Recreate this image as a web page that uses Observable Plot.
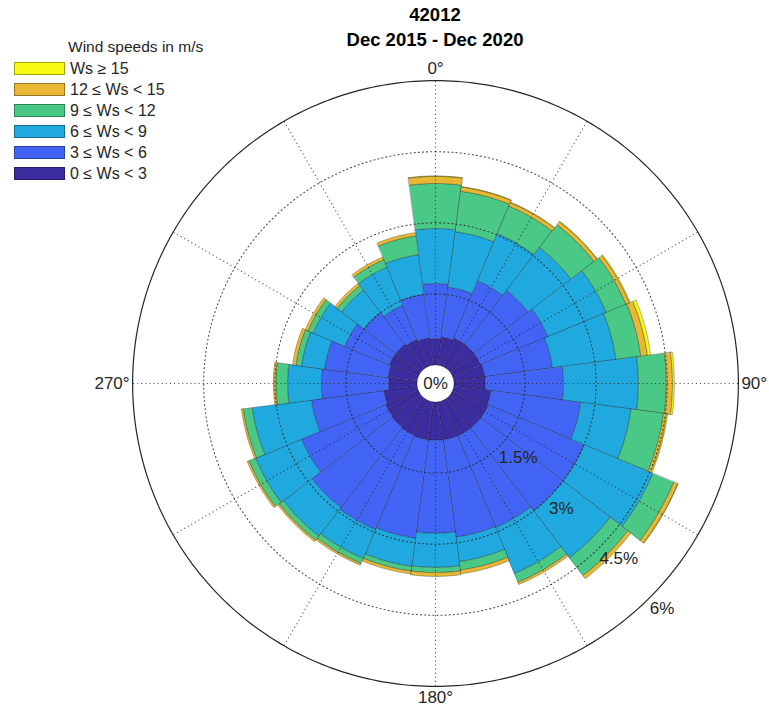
<!DOCTYPE html>
<html>
<head>
<meta charset="utf-8">
<script src="https://cdn.jsdelivr.net/npm/d3@7"></script>
<script src="https://cdn.jsdelivr.net/npm/@observablehq/plot@0.6"></script>
<style>
  body { margin: 0; background: #fff; font-family: "Liberation Sans", Arial, sans-serif; }
  #wrap { position: relative; width: 769px; height: 706px; overflow: hidden; }
  #wrap svg { position: absolute; left: 0; top: 0; }
  .title { position: absolute; left: 0; text-align: center; font-weight: bold; font-size: 18.5px; color: #000; }
  #legend { position: absolute; left: 14px; top: 38px; font-size: 16px; color: #262626; }
  #legend .lt { position: absolute; left: 54px; top: 0; white-space: nowrap; font-size: 15.5px; }
  #legend .row { position: absolute; left: 0; height: 14px; white-space: nowrap; }
  #legend .sw { position: absolute; left: 0; top: 0; width: 51px; height: 13px; border: 1px solid rgba(0,0,0,0.35); box-sizing: border-box; }
  #legend .lab { position: absolute; left: 56px; top: -2px; line-height: 17px; }
</style>
</head>
<body>
<div id="wrap"></div>
<script>
// ---------- data ----------
const directions = [0, 15, 30, 45, 60, 75, 90, 105, 120, 135, 150, 165, 180, 195, 210, 225, 240, 255, 270, 285, 300, 315, 330, 345];
const speedBins = ["0 \u2264 Ws < 3", "3 \u2264 Ws < 6", "6 \u2264 Ws < 9", "9 \u2264 Ws < 12", "12 \u2264 Ws < 15", "Ws \u2265 15"];
const binColors = ["#3b2c9f", "#4164f5", "#1fa9df", "#49c886", "#e8b733", "#f8fa12"];
// frequency (%) per direction for each speed bin
const freq0to3   = [0.56, 0.60, 0.64, 0.64, 0.64, 0.66, 0.66, 0.79, 0.81, 0.81, 0.81, 0.81, 0.81, 0.81, 0.79, 0.77, 0.75, 0.71, 0.60, 0.62, 0.66, 0.66, 0.62, 0.58];
const freq3to6   = [1.16, 1.06, 1.31, 1.44, 1.54, 1.44, 1.65, 1.91, 2.19, 2.19, 2.09, 2.07, 1.96, 2.09, 2.15, 2.13, 1.92, 1.54, 1.42, 1.35, 1.02, 0.85, 0.78, 0.93];
const freq6to9   = [1.16, 1.18, 1.08, 1.14, 1.33, 1.35, 1.58, 1.07, 1.57, 1.25, 1.05, 0.52, 0.72, 0.60, 0.66, 0.76, 1.05, 1.26, 0.71, 0.49, 0.72, 0.59, 0.87, 0.84];
const freq9to12  = [0.95, 0.86, 0.63, 0.61, 0.45, 0.53, 0.59, 0.69, 0.48, 0.47, 0.20, 0.18, 0.11, 0.10, 0.12, 0.11, 0.15, 0.19, 0.25, 0.12, 0.12, 0.12, 0.17, 0.40];
const freq12to15 = [0.15, 0.09, 0.08, 0.08, 0.08, 0.14, 0.13, 0.07, 0.09, 0.08, 0.05, 0.08, 0.08, 0.06, 0.04, 0.04, 0.04, 0.04, 0.05, 0.07, 0.06, 0.06, 0.06, 0.07];
const freq15plus = [0.01, 0.01, 0.01, 0.01, 0.02, 0.07, 0.04, 0.02, 0.01, 0, 0, 0, 0, 0, 0, 0, 0, 0, 0, 0, 0, 0, 0, 0];
const rTicks = [1.5, 3, 4.5, 6];
const rTickLabels = ["1.5%", "3%", "4.5%", "6%"];
const thetaTicks = [0, 90, 180, 270];
const thetaTickLabels = ["0\u00b0", "90\u00b0", "180\u00b0", "270\u00b0"];
const thetaGrid = [0, 30, 60, 90, 120, 150, 180, 210, 240, 270, 300, 330];
const titleLines = ["42012", "Dec 2015 - Dec 2020"];
const legendTitle = "Wind speeds in m/s";

// ---------- geometry helpers ----------
const W = 769, H = 706;
const cx = 435, cy = 383, pxPerUnit = 47.4;
const hole = 0.39;          // empty centre, in % units
const sectorWidth = 15;
const rMax = 6;
const rLabelAngle = 135;
const rad = a => a * Math.PI / 180;
const px = (r, a) => r * Math.sin(rad(a));
const py = (r, a) => r * Math.cos(rad(a));

const bins = [freq0to3, freq3to6, freq6to9, freq9to12, freq12to15, freq15plus];
const polys = [];
directions.forEach((d, i) => {
  let cum = 0;
  bins.forEach((arr, k) => {
    const v = arr[i];
    if (!(v > 0)) return;
    const r0 = hole + cum, r1 = hole + cum + v;
    cum += v;
    const id = d + "-" + k;
    const a0 = d - sectorWidth / 2, a1 = d + sectorWidth / 2;
    for (let a = a0; a <= a1 + 1e-9; a += 0.5) polys.push({id, bin: speedBins[k], x: px(r1, a), y: py(r1, a)});
    for (let a = a1; a >= a0 - 1e-9; a -= 0.5) polys.push({id, bin: speedBins[k], x: px(r0, a), y: py(r0, a)});
  });
});

const circlePts = [];
rTicks.forEach(r => {
  for (let a = 0; a < 360; a += 1) circlePts.push({r, x: px(hole + r, a), y: py(hole + r, a)});
});

const labR = hole + rMax;
const thetaIdx = thetaTicks.map((a, i) => i);
const tickFont = 17;

const chart = Plot.plot({
  width: W, height: H,
  marginTop: 0, marginBottom: 0, marginLeft: 0, marginRight: 0,
  x: {domain: [-cx / pxPerUnit, (W - cx) / pxPerUnit], axis: null},
  y: {domain: [-(H - cy) / pxPerUnit, cy / pxPerUnit], axis: null},
  color: {type: "ordinal", domain: speedBins, range: binColors},
  style: {fontFamily: "'Liberation Sans', Arial, sans-serif", background: "white"},
  marks: [
    Plot.line(polys, {x: "x", y: "y", z: "id", fill: "bin", stroke: "#1a1a1a", strokeOpacity: 0.4, strokeWidth: 0.8, curve: "linear-closed"}),
    Plot.line(circlePts.filter(d => d.r < rMax), {x: "x", y: "y", z: "r", curve: "linear-closed", stroke: "#262626", strokeWidth: 1.1, strokeDasharray: "1.1 3", strokeOpacity: 0.8}),
    Plot.link(thetaGrid, {
      x1: a => px(hole, a), y1: a => py(hole, a),
      x2: a => px(hole + rMax, a), y2: a => py(hole + rMax, a),
      stroke: "#262626", strokeWidth: 1.1, strokeDasharray: "1.1 3", strokeOpacity: 0.8
    }),
    Plot.line(circlePts.filter(d => d.r === rMax), {x: "x", y: "y", z: "r", curve: "linear-closed", stroke: "#262626", strokeWidth: 1.2}),
    // theta labels: top / bottom centred, right starts after circle, left ends before circle
    Plot.text(thetaIdx.filter(i => thetaTicks[i] === 0), {
      x: i => px(labR, thetaTicks[i]), y: i => py(labR, thetaTicks[i]), dy: -12,
      text: i => thetaTickLabels[i], fontSize: tickFont, fill: "#262626"
    }),
    Plot.text(thetaIdx.filter(i => thetaTicks[i] === 180), {
      x: i => px(labR, thetaTicks[i]), y: i => py(labR, thetaTicks[i]), dy: 11,
      text: i => thetaTickLabels[i], fontSize: tickFont, fill: "#262626"
    }),
    Plot.text(thetaIdx.filter(i => thetaTicks[i] === 90), {
      x: i => px(labR, thetaTicks[i]), y: i => py(labR, thetaTicks[i]), dx: 3,
      text: i => thetaTickLabels[i], fontSize: tickFont, fill: "#262626", textAnchor: "start"
    }),
    Plot.text(thetaIdx.filter(i => thetaTicks[i] === 270), {
      x: i => px(labR, thetaTicks[i]), y: i => py(labR, thetaTicks[i]), dx: -3,
      text: i => thetaTickLabels[i], fontSize: tickFont, fill: "#262626", textAnchor: "end"
    }),
    Plot.text(rTicks, {
      x: r => px(hole + r, rLabelAngle), y: r => py(hole + r, rLabelAngle), dy: 11,
      text: (r, i) => rTickLabels[i], fontSize: tickFont, fill: "#262626", textAnchor: "start"
    }),
    Plot.text(["0%"], {x: () => 0, y: () => 0, text: d => d, fontSize: tickFont, fill: "#262626"})
  ]
});

const wrap = document.getElementById("wrap");
wrap.appendChild(chart);

// title
titleLines.forEach((t, i) => {
  const el = document.createElement("div");
  el.className = "title";
  el.style.top = (4 + i * 25) + "px";
  el.style.width = (2 * cx) + "px";
  el.textContent = t;
  wrap.appendChild(el);
});

// legend (top entry = highest speed)
const legend = document.createElement("div");
legend.id = "legend";
const lt = document.createElement("div");
lt.className = "lt"; lt.textContent = legendTitle;
legend.appendChild(lt);
speedBins.slice().reverse().forEach((b, i) => {
  const row = document.createElement("div");
  row.className = "row";
  row.style.top = (24 + i * 21) + "px";
  const sw = document.createElement("div");
  sw.className = "sw";
  sw.style.background = binColors[speedBins.length - 1 - i];
  const lab = document.createElement("div");
  lab.className = "lab"; lab.textContent = b;
  row.appendChild(sw); row.appendChild(lab);
  legend.appendChild(row);
});
wrap.appendChild(legend);
</script>
</body>
</html>
